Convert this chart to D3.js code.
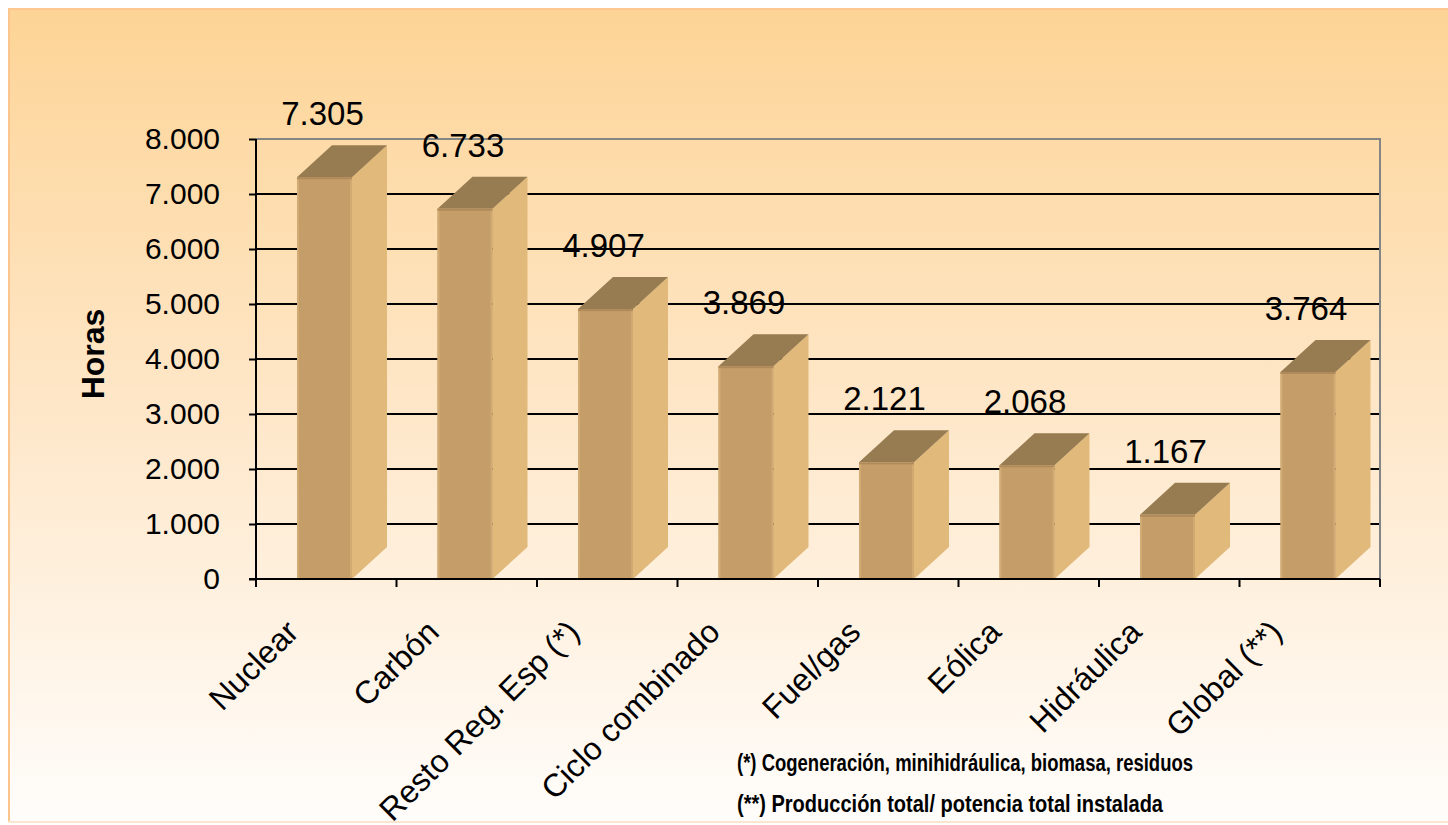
<!DOCTYPE html>
<html lang="es">
<head>
  <meta charset="utf-8">
  <title>Horas de funcionamiento</title>
  <script src="https://cdn.jsdelivr.net/npm/d3@7"></script>
  <style>
    html, body { margin: 0; padding: 0; background: #fff; }
    svg { display: block; font-family: "Liberation Sans", Arial, sans-serif; }
  </style>
</head>
<body>
  <script>
    // data
    var categories = ["Nuclear", "Carbón", "Resto Reg. Esp (*)", "Ciclo combinado",
                      "Fuel/gas", "Eólica", "Hidráulica", "Global (**)"];
    var horas = [7305, 6733, 4907, 3869, 2121, 2068, 1167, 3764];
    var yTicks = [0, 1000, 2000, 3000, 4000, 5000, 6000, 7000, 8000];
    var notes = ["(*) Cogeneración, minihidráulica, biomasa, residuos",
                 "(**) Producción total/ potencia total instalada"];

    var w = 1448;
    var h = 825;
    var plot = { left: 256, right: 1380, top: 139, bottom: 579 };

    // bar geometry (pseudo 3D, like the spreadsheet original)
    var barOffset = 41;   // front face start inside the band
    var barWidth = 55;
    var depthX = 35;
    var depthY = -32;

    var es = d3.formatLocale({ decimal: ",", thousands: ".", grouping: [3], currency: ["", " €"] });
    var fmt = es.format(",d");

    var svg = d3.select("body").append("svg")
                .attr("width", w)
                .attr("height", h);

    var defs = svg.append("defs");
    var grad = defs.append("linearGradient")
                   .attr("id", "bg")
                   .attr("x1", 0).attr("y1", 0)
                   .attr("x2", 0).attr("y2", 1);
    grad.append("stop").attr("offset", "0%").attr("stop-color", "#fdd496");
    grad.append("stop").attr("offset", "50%").attr("stop-color", "#fee7c9");
    grad.append("stop").attr("offset", "100%").attr("stop-color", "#fffdfb");

    // chart area background
    svg.append("rect")
       .attr("x", 8).attr("y", 8)
       .attr("width", w).attr("height", 814)
       .attr("fill", "url(#bg)");
    svg.append("line")
       .attr("x1", 8).attr("x2", w).attr("y1", 9).attr("y2", 9)
       .attr("stroke", "#fdc791").attr("stroke-width", 2);
    svg.append("line")
       .attr("x1", 9).attr("x2", 9).attr("y1", 8).attr("y2", 822)
       .attr("stroke", "#fdc58e").attr("stroke-width", 2);
    svg.append("line")
       .attr("x1", 8).attr("x2", w).attr("y1", 822).attr("y2", 822)
       .attr("stroke", "#fde6cf").attr("stroke-width", 2);

    var x = d3.scaleBand()
              .domain(categories)
              .range([plot.left, plot.right])
              .paddingInner(0)
              .paddingOuter(0);
    var y = d3.scaleLinear()
              .domain([0, 8000])
              .range([plot.bottom, plot.top]);

    // gridlines
    svg.append("g")
       .selectAll("line")
       .data(yTicks.filter(function(d) { return d > 0 && d < 8000; }))
       .enter()
         .append("line")
         .attr("x1", plot.left).attr("x2", plot.right)
         .attr("y1", function(d) { return y(d); })
         .attr("y2", function(d) { return y(d); })
         .attr("stroke", "#000").attr("stroke-width", 2);

    // plot frame top and right (grey)
    svg.append("path")
       .attr("d", "M" + plot.left + "," + y(8000) + "H" + plot.right + "V" + plot.bottom)
       .attr("fill", "none")
       .attr("stroke", "#858585")
       .attr("stroke-width", 2);

    // bars
    var bars = svg.append("g").selectAll("g")
                  .data(horas)
                  .enter()
                    .append("g");

    function fx(d, i) { return x(categories[i]) + barOffset; }

    bars.append("path")   // side face
        .attr("d", function(d, i) {
          var x0 = fx(d, i) + barWidth, y0 = y(d), yb = y(0);
          return "M" + x0 + "," + yb + "L" + x0 + "," + y0 +
                 "L" + (x0 + depthX) + "," + (y0 + depthY) +
                 "L" + (x0 + depthX) + "," + (yb + depthY) + "Z";
        })
        .attr("fill", "#e1b97a");
    bars.append("path")   // top face
        .attr("d", function(d, i) {
          var x0 = fx(d, i), y0 = y(d);
          return "M" + x0 + "," + y0 + "L" + (x0 + barWidth) + "," + y0 +
                 "L" + (x0 + barWidth + depthX) + "," + (y0 + depthY) +
                 "L" + (x0 + depthX) + "," + (y0 + depthY) + "Z";
        })
        .attr("fill", "#977c51");
    bars.append("rect")   // front face
        .attr("x", fx)
        .attr("y", function(d) { return y(d); })
        .attr("width", barWidth)
        .attr("height", function(d) { return y(0) - y(d); })
        .attr("fill", "#c49d69");
    bars.append("rect")   // soft edges on the front
        .attr("x", fx)
        .attr("y", function(d) { return y(d); })
        .attr("width", 2)
        .attr("height", function(d) { return y(0) - y(d); })
        .attr("fill", "#d2ab74");
    bars.append("rect")
        .attr("x", function(d, i) { return fx(d, i) + barWidth - 2; })
        .attr("y", function(d) { return y(d); })
        .attr("width", 2)
        .attr("height", function(d) { return y(0) - y(d); })
        .attr("fill", "#d1aa72");
    bars.append("rect")
        .attr("x", fx)
        .attr("y", function(d) { return y(d); })
        .attr("width", barWidth)
        .attr("height", 2)
        .attr("fill", "#b08a5a");

    // value labels
    bars.append("text")
        .attr("x", function(d, i) { return fx(d, i) + barWidth / 2 - 2; })
        .attr("y", function(d) { return y(d) - 52; })
        .attr("text-anchor", "middle")
        .attr("font-size", 33)
        .attr("fill", "#000")
        .text(function(d) { return fmt(d); });

    // axes
    var yAxis = d3.axisLeft(y)
                  .tickValues(yTicks)
                  .tickSize(7)
                  .tickPadding(29)
                  .tickFormat(fmt);
    var gy = svg.append("g")
                .attr("transform", "translate(" + plot.left + ",0)")
                .call(yAxis);
    gy.select(".domain").attr("stroke", "#000").attr("stroke-width", 2)
      .attr("d", "M0," + plot.top + "V" + plot.bottom);
    gy.selectAll(".tick line").attr("stroke", "#000").attr("stroke-width", 2);
    gy.selectAll(".tick text")
      .attr("font-size", 30)
      .attr("font-family", "Liberation Sans, Arial, sans-serif")
      .attr("fill", "#000");

    var xAxis = d3.axisBottom(x)
                  .tickSize(0)
                  .tickFormat("");
    var gx = svg.append("g")
                .attr("transform", "translate(0," + plot.bottom + ")")
                .call(xAxis);
    gx.select(".domain").attr("stroke", "#000").attr("stroke-width", 2)
      .attr("d", "M" + (plot.left - 7) + ",0H" + plot.right);
    gx.selectAll(".sep")
      .data(d3.range(categories.length + 1))
      .enter()
        .append("line")
        .attr("class", "sep")
        .attr("x1", function(i) { return plot.left + i * x.bandwidth(); })
        .attr("x2", function(i) { return plot.left + i * x.bandwidth(); })
        .attr("y1", 0).attr("y2", 8)
        .attr("stroke", "#000").attr("stroke-width", 2);

    // category labels
    svg.append("g").selectAll("text")
       .data(categories)
       .enter()
         .append("text")
         .attr("transform", function(d) {
           return "translate(" + (x(d) + x.bandwidth() / 2 - 26) + ",634) rotate(-45)";
         })
         .attr("text-anchor", "end")
         .attr("font-size", 32)
         .attr("fill", "#000")
         .text(function(d) { return d; });

    // axis title
    svg.append("text")
       .attr("transform", "translate(104,354) rotate(-90)")
       .attr("text-anchor", "middle")
       .attr("font-size", 32)
       .attr("font-weight", "bold")
       .attr("fill", "#000")
       .text("Horas");

    // footnotes
    svg.append("g").selectAll("text")
       .data(notes)
       .enter()
         .append("text")
         .attr("x", 737)
         .attr("y", function(d, i) { return 771 + i * 41; })
         .attr("font-size", 24)
         .attr("font-weight", "bold")
         .attr("textLength", function(d, i) { return i === 0 ? 456 : 426; })
         .attr("lengthAdjust", "spacingAndGlyphs")
         .attr("fill", "#000")
         .text(function(d) { return d; });
  </script>
</body>
</html>
